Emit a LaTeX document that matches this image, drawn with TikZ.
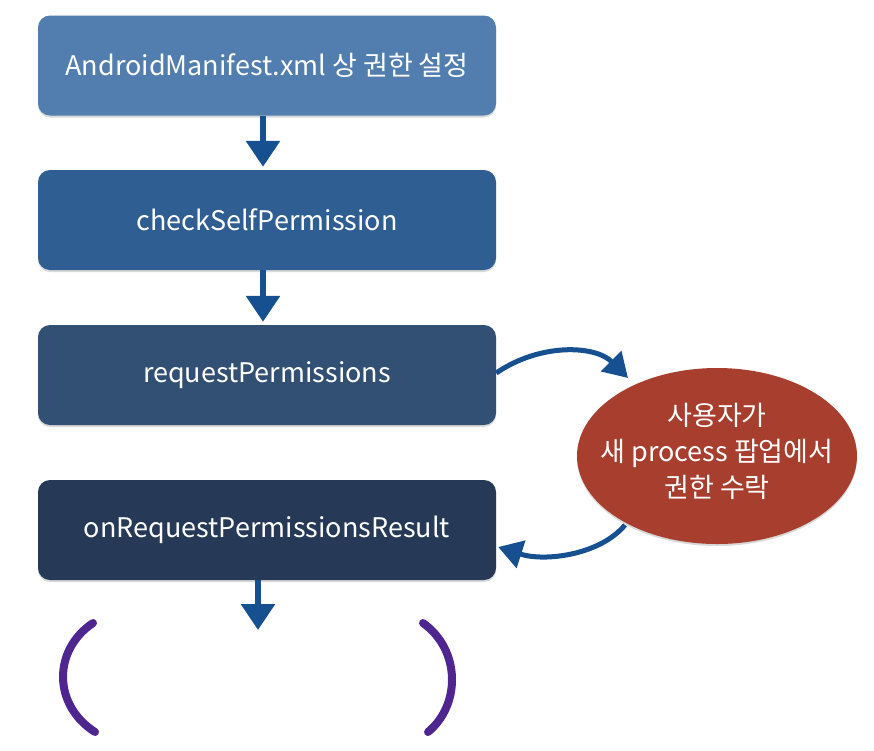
\documentclass[tikz,border=0pt]{standalone}
\usepackage{fontspec}
\setmainfont{Noto Sans CJK KR}
\usetikzlibrary{arrows.meta,shadows,shapes.geometric}
\definecolor{bA}{HTML}{517DAF}
\definecolor{bB}{HTML}{2F5E92}
\definecolor{bC}{HTML}{325073}
\definecolor{bD}{HTML}{263957}
\definecolor{eR}{HTML}{A83E2D}
\definecolor{arrblue}{HTML}{165091}
\definecolor{parpurple}{HTML}{4F2590}
\begin{document}
\begin{tikzpicture}[x=1pt,y=-1pt,
  box/.style={rounded corners=12pt, minimum width=458pt, minimum height=100pt,
    text=white, font=\fontsize{27}{32}\selectfont, inner sep=0pt,
    drop shadow={shadow xshift=0pt,shadow yshift=-2pt,opacity=0.3}},
  ell/.style={ellipse, minimum width=280pt, minimum height=176pt, inner sep=0pt,
    drop shadow={shadow xshift=0pt,shadow yshift=-2pt,opacity=0.3}},
  elltext/.style={text=white, align=center, inner sep=0pt, font=\fontsize{27}{36}\selectfont},
  flow/.style={draw=arrblue, line width=6pt, -{Triangle[width=33pt,length=26pt]}},
  curv/.style={draw=arrblue, line width=5pt, -{Triangle[width=28pt,length=24pt]}},
  paren/.style={draw=parpurple, line width=8pt, line cap=round}]
\useasboundingbox (0,0) rectangle (874,750);
\node[box, fill=bA] (b1) at (267,65.5) {AndroidManifest.xml 상 권한 설정};
\node[box, fill=bB] (b2) at (267,220) {checkSelfPermission};
\node[box, fill=bC] (b3) at (267,375) {requestPermissions};
\node[box, fill=bD] (b4) at (267,530) {onRequestPermissionsResult};
\node[ell, fill=eR] (e) at (717,456) {};
\node[elltext] (et) at ([shift={(0,-5)}]e.center) {사용자가\\새 process 팝업에서\\권한 수락};
\coordinate (endd) at (258,630);
\draw[flow] ([xshift=-4pt]b1.south) -- ([xshift=-4pt,yshift=3pt]b2.north);
\draw[flow] ([xshift=-4pt]b2.south) -- ([xshift=-4pt,yshift=3pt]b3.north);
\draw[flow] ([xshift=-9pt]b4.south) -- (endd);
\draw[curv] ([shift={(0,-2)}]b3.east) .. controls (540,343) and (595,345) .. ([shift={(-89,-78)}]e.center);
\draw[curv] ([shift={(-92,69)}]e.center) .. controls (600,555) and (545,562) .. ([shift={(2,17)}]b4.east);
\draw[paren] (93,623) .. controls (52.7,650) and (52.7,705) .. (95,732);
\draw[paren] (423,623) .. controls (460.8,650) and (460.8,705) .. (428,732);
\end{tikzpicture}
\end{document}
